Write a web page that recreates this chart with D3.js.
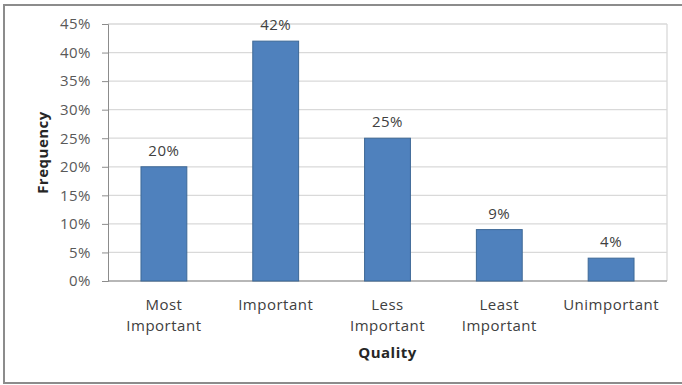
<!DOCTYPE html>
<html><head><meta charset="utf-8">
<script src="https://cdn.jsdelivr.net/npm/d3@7"></script>
<style>body{margin:0;background:#fff;} svg{display:block;}</style>
</head><body>
<svg id="c" width="682" height="385"></svg>
<script>
const categories = [["Most","Important"],["Important"],["Less","Important"],["Least","Important"],["Unimportant"]];
const values = [20, 42, 25, 9, 4];
const yTicks = [0,5,10,15,20,25,30,35,40,45];
const xTitle = "Quality";
const yTitle = "Frequency";

const svg = d3.select("#c");
const font = "'Open Sans', sans-serif";
const fs = 15;
const ls = "0.5px";
const m = {l:108, r:667, t:24, b:281};

svg.append("rect").attr("x",4).attr("y",5).attr("width",690).attr("height",378)
  .attr("fill","#fff").attr("stroke","#8c8c8c").attr("stroke-width",2);

const x = d3.scaleBand().domain(d3.range(values.length)).range([m.l,m.r]).paddingInner(0.59).paddingOuter(0.295);
const y = d3.scaleLinear().domain([0,45]).range([m.b,m.t]);

// gridlines
svg.append("g").selectAll("line").data(yTicks).join("line")
  .attr("x1",m.l).attr("x2",m.r).attr("y1",d=>y(d)).attr("y2",d=>y(d))
  .attr("stroke","#d9d9d9").attr("stroke-width",1.3);
svg.append("line").attr("x1",m.r).attr("x2",m.r).attr("y1",m.t).attr("y2",m.b).attr("stroke","#d9d9d9").attr("stroke-width",1.3);

// y axis
const yAxis = d3.axisLeft(y).tickValues(yTicks).tickFormat(d=>d+"%").tickSize(6).tickPadding(11);
const gy = svg.append("g").attr("transform",`translate(${m.l},0)`).call(yAxis);
gy.select(".domain").attr("stroke","#8c8c8c");
gy.selectAll(".tick line").attr("stroke","#8c8c8c");
gy.selectAll("text").attr("font-family",font).attr("font-size",fs).attr("letter-spacing",ls).attr("fill","#595959");

// x axis line
svg.append("line").attr("x1",m.l).attr("x2",m.r).attr("y1",m.b).attr("y2",m.b).attr("stroke","#8c8c8c");

// bars
svg.append("g").selectAll("rect").data(values).join("rect")
  .attr("x",(d,i)=>x(i)).attr("width",x.bandwidth())
  .attr("y",d=>y(d)).attr("height",d=>m.b-y(d))
  .attr("fill","#4f81bd").attr("stroke","#3d6896").attr("stroke-width",1);

// value labels
svg.append("g").selectAll("text").data(values).join("text")
  .attr("x",(d,i)=>x(i)+x.bandwidth()/2).attr("y",d=>y(d)-11)
  .attr("text-anchor","middle").attr("font-family",font).attr("font-size",fs).attr("letter-spacing",ls).attr("fill","#404040")
  .text(d=>d+"%");

// category labels
const cg = svg.append("g").selectAll("text").data(categories).join("text")
  .attr("text-anchor","middle").attr("font-family",font).attr("font-size",fs).attr("letter-spacing",ls).attr("fill","#404040")
  .attr("transform",(d,i)=>`translate(${x(i)+x.bandwidth()/2},310)`);
cg.selectAll("tspan").data(d=>d).join("tspan").attr("x",0).attr("dy",(d,j)=>j?21:0).text(d=>d);

// axis titles
svg.append("text").attr("x",(m.l+m.r)/2).attr("y",358).attr("text-anchor","middle")
  .attr("font-family",font).attr("font-size",fs).attr("letter-spacing",ls).attr("font-weight","bold").attr("fill","#262626").text(xTitle);
svg.append("text").attr("transform",`translate(48,${(m.t+m.b)/2}) rotate(-90)`).attr("text-anchor","middle")
  .attr("font-family",font).attr("font-size",fs).attr("letter-spacing",ls).attr("font-weight","bold").attr("fill","#262626").text(yTitle);
</script>
</body></html>
